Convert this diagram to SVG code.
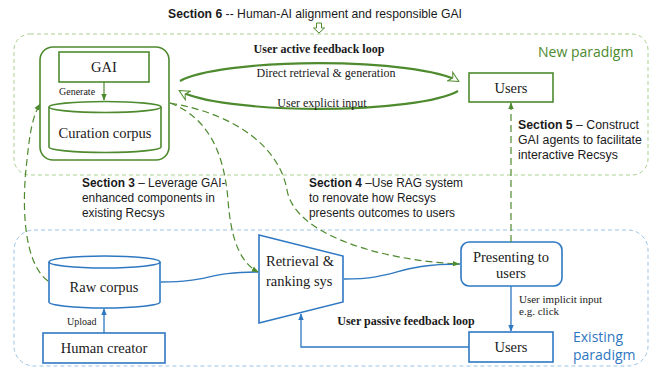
<svg xmlns="http://www.w3.org/2000/svg" width="652" height="368" viewBox="0 0 652 368">
<defs>
<style>
.sans{font-family:"Liberation Sans",Arial,sans-serif;fill:#1a1a1a;font-size:11.9px}
.b{font-weight:bold}
.serif{font-family:"Liberation Serif","Times New Roman",serif;fill:#1a1a1a}
.node{font-size:14.5px}
.small{font-size:10px}
.lbl{font-size:12px}
.gstroke{stroke:#4e8a2e;stroke-width:1.6;fill:#fff}
.bstroke{stroke:#2e78c2;stroke-width:1.6;fill:#fff}
.gdash{stroke:#4e8a2e;stroke-width:1.2;fill:none;stroke-dasharray:7 4}
.bline{stroke:#2e78c2;stroke-width:1.3;fill:none}
.para{font-family:"Open Sans","Noto Sans",sans-serif;font-size:14px}
</style>
<marker id="ga" viewBox="0 0 10 10" refX="9" refY="5" markerWidth="7" markerHeight="7" orient="auto-start-reverse" markerUnits="userSpaceOnUse"><path d="M0,1 L10,5 L0,9 Z" fill="#4e8a2e"/></marker>
<marker id="ba" viewBox="0 0 10 10" refX="9" refY="5" markerWidth="7" markerHeight="7" orient="auto-start-reverse" markerUnits="userSpaceOnUse"><path d="M0,1 L10,5 L0,9 Z" fill="#2e78c2"/></marker>
<marker id="ho" viewBox="0 0 12 12" refX="10" refY="6" markerWidth="12" markerHeight="12" orient="auto" markerUnits="userSpaceOnUse"><path d="M1,1 L11,6 L1,11 L4,6 Z" fill="#fff" stroke="#4e8a2e" stroke-width="1"/></marker>
</defs>

<!-- paradigm frames -->
<g id="new-paradigm">
<rect x="14" y="34" width="634" height="141" rx="16" fill="none" stroke="#a9d18e" stroke-width="1" stroke-dasharray="4 3"/>
<text x="538" y="57" class="para" fill="#4e8a2e">New paradigm</text>
</g>
<g id="existing-paradigm">
<rect x="14" y="230" width="634" height="136" rx="20" fill="none" stroke="#9dc3e6" stroke-width="1" stroke-dasharray="4 3"/>
<text x="573" y="342" class="para" fill="#2e78c2">Existing</text>
<text x="573" y="360" class="para" fill="#2e78c2">paradigm</text>
</g>

<!-- section texts -->
<g id="section6">
<text x="168" y="18" class="sans" style="font-size:12.2px"><tspan class="b">Section 6</tspan> -- Human-AI alignment and responsible GAI</text>
<path d="M316.5,23 h5 v5 h3 l-5.5,5 l-5.5,-5 h3 Z" fill="#fff" stroke="#4e8a2e" stroke-width="1"/>
</g>
<g id="section3">
<text x="82" y="187" class="sans"><tspan class="b">Section 3</tspan> – Leverage GAI-</text>
<text x="82" y="202" class="sans">enhanced components in</text>
<text x="82" y="217" class="sans">existing Recsys</text>
</g>
<g id="section4">
<text x="309" y="187" class="sans"><tspan class="b">Section 4</tspan> –Use RAG system</text>
<text x="309" y="202" class="sans">to renovate how Recsys</text>
<text x="309" y="217" class="sans">presents outcomes to users</text>
</g>
<g id="section5">
<text x="518" y="129" class="sans" style="font-size:12.3px"><tspan class="b">Section 5</tspan> – Construct</text>
<text x="518" y="144" class="sans" style="font-size:12.3px">GAI agents to facilitate</text>
<text x="518" y="159" class="sans" style="font-size:12.3px">interactive Recsys</text>
</g>

<!-- nodes -->
<g id="gai-module">
<rect x="40" y="47" width="129" height="113" rx="13" class="gstroke"/>
</g>
<g id="gai">
<rect x="59" y="52" width="90" height="30" fill="#fff" stroke="#4e8a2e" stroke-width="1.6"/>
<text x="104" y="72" text-anchor="middle" class="serif node">GAI</text>
</g>
<g id="curation-corpus">
<path d="M49,107 v40 a56,5.5 0 0 0 112,0 v-40" class="gstroke"/>
<ellipse cx="105" cy="107" rx="56" ry="5.5" class="gstroke"/>
<text x="105" y="138" text-anchor="middle" class="serif node">Curation corpus</text>
</g>
<g id="users-top">
<rect x="469" y="73" width="84" height="29" class="gstroke"/>
<text x="511" y="93" text-anchor="middle" class="serif node">Users</text>
</g>
<g id="raw-corpus">
<path d="M49,262 v40 a55.5,6 0 0 0 111,0 v-40" class="bstroke"/>
<ellipse cx="104.5" cy="262" rx="55.5" ry="6" class="bstroke"/>
<text x="104" y="292" text-anchor="middle" class="serif node">Raw corpus</text>
</g>
<g id="human-creator">
<rect x="43" y="333" width="122" height="30" class="bstroke"/>
<text x="104" y="353" text-anchor="middle" class="serif node">Human creator</text>
</g>
<g id="retrieval">
<path d="M259,235 L343,256 L343,302 L259,323 Z" class="bstroke"/>
<text x="266" y="266" class="serif node">Retrieval &amp;</text>
<text x="266" y="286" class="serif node">ranking sys</text>
</g>
<g id="presenting">
<rect x="461" y="242" width="101" height="44" rx="8" class="bstroke"/>
<text x="511" y="262" text-anchor="middle" class="serif node">Presenting to</text>
<text x="511" y="278" text-anchor="middle" class="serif node">users</text>
</g>
<g id="users-bottom">
<rect x="469" y="332" width="84" height="30" class="bstroke"/>
<text x="511" y="352" text-anchor="middle" class="serif node">Users</text>
</g>

<!-- connectors -->
<g id="connectors">
<path d="M104,82 V100" stroke="#4e8a2e" stroke-width="1.2" fill="none" marker-end="url(#ga)"/>
<text x="59" y="95" class="serif small">Generate</text>
<path d="M180,81 A145,25 0 0 1 458,81" stroke="#4e8a2e" stroke-width="2.2" fill="none" marker-end="url(#ho)"/>
<path d="M458,91 A145,25 0 0 1 180,91" stroke="#4e8a2e" stroke-width="2.2" fill="none" marker-end="url(#ho)"/>
<text x="319" y="53" text-anchor="middle" class="serif lbl b">User active feedback loop</text>
<text x="326" y="77" text-anchor="middle" class="serif lbl">Direct retrieval &amp; generation</text>
<text x="322" y="107" text-anchor="middle" class="serif lbl">User explicit input</text>

<path d="M104,333 V309" class="bline" marker-end="url(#ba)"/>
<text x="67" y="325" class="serif small">Upload</text>
<path d="M161,282 C212,282 205,272 258,272" class="bline"/>
<path d="M344,279 C400,279 395,264 460,264" class="bline"/>
<path d="M511,286 V331" class="bline" marker-end="url(#ba)"/>
<text x="519" y="303" class="serif" style="font-size:11px">User implicit input</text>
<text x="519" y="315" class="serif" style="font-size:11px">e.g. click</text>
<path d="M469,347 H301 V314" class="bline" marker-end="url(#ba)"/>
<text x="406" y="325" text-anchor="middle" class="serif lbl b">User passive feedback loop</text>

<path d="M48,281 C22,262 22,200 27,160 C30,130 33,116 40,104" class="gdash" marker-end="url(#ga)"/>
<path d="M170,103 C215,120 225,165 228,200 C231,240 240,262 258,272" class="gdash" marker-end="url(#ga)"/>
<path d="M170,103 C240,115 280,150 287,190 C295,235 380,260 459,264" class="gdash" marker-end="url(#ga)"/>
<path d="M511,242 V103" class="gdash" marker-end="url(#ga)"/>
</g>
</svg>
